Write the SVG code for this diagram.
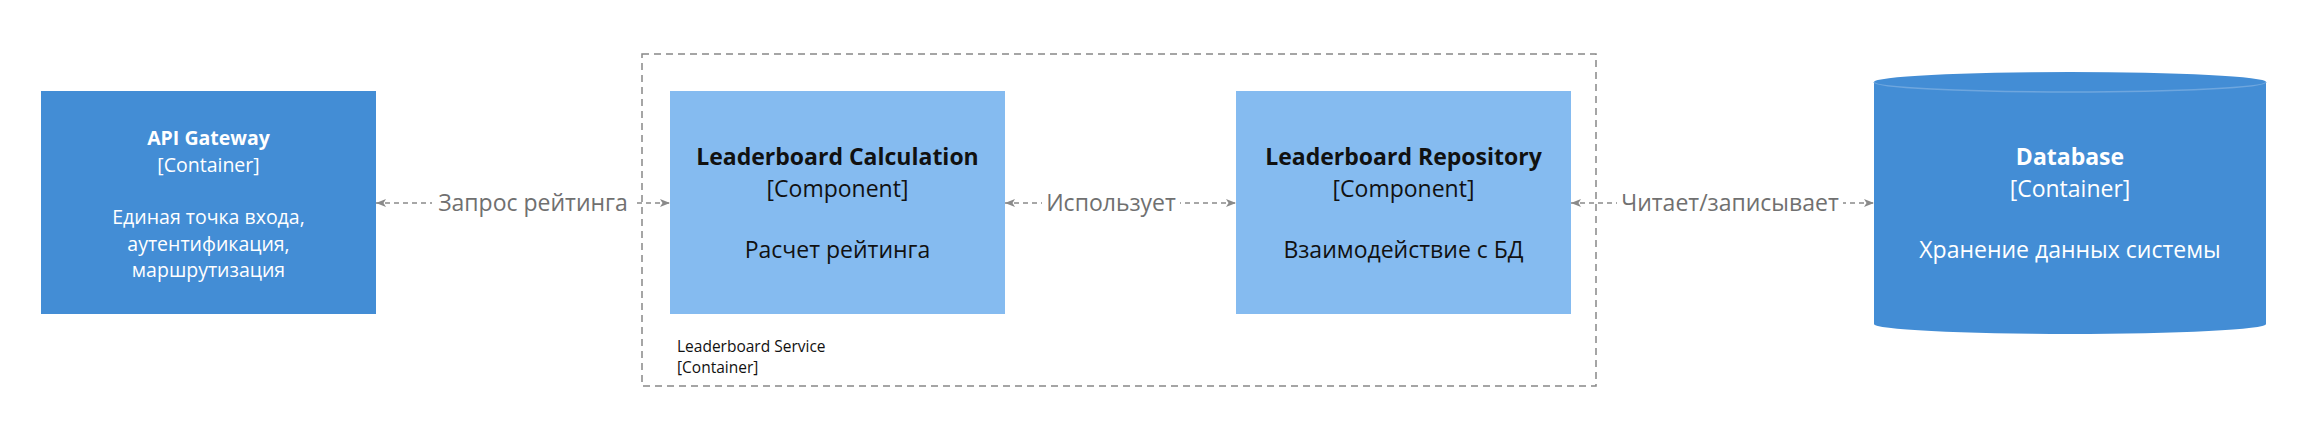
<svg xmlns="http://www.w3.org/2000/svg" width="2304" height="433" viewBox="0 0 2304 433">
<defs>
<style>
text{font-family:"Open Sans","Noto Sans","DejaVu Sans",sans-serif;text-anchor:middle}
.cont{fill:#438dd5}
.comp{fill:#85bbf0}
.w{fill:#ffffff}
.k{fill:#111111}
.t20{font-size:19.5px}
.t24{font-size:23px}
.b{font-weight:bold}
.rel{stroke:#8a8a8a;stroke-width:1.5;stroke-dasharray:5,4;fill:none;marker-start:url(#ah);marker-end:url(#ah)}
.rl{font-size:23px;fill:#707070}
.bg{fill:#ffffff}
</style>
<marker id="ah" viewBox="0 0 10 10" refX="10" refY="5" markerWidth="10" markerHeight="10" markerUnits="userSpaceOnUse" orient="auto-start-reverse">
<path d="M0,1 L10,5 L0,9 L2.5,5 Z" fill="#8a8a8a"/>
</marker>
</defs>
<rect width="2304" height="433" fill="#ffffff"/>
<g id="boundary">
<rect x="642" y="54" width="954" height="332" fill="none" stroke="#888888" stroke-width="1.5" stroke-dasharray="7,5"/>
<text x="677" y="352" style="font-size:15.5px;text-anchor:start;fill:#111111">Leaderboard Service</text>
<text x="677" y="373" style="font-size:15.5px;text-anchor:start;fill:#111111">[Container]</text>
</g>
<g id="api-gateway">
<rect class="cont" x="41" y="91" width="335" height="223"/>
<text class="w t20 b" x="208.5" y="145">API Gateway</text>
<text class="w t20" x="208.5" y="172">[Container]</text>
<text class="w t20" x="208.5" y="224">Единая точка входа,</text>
<text class="w t20" x="208.5" y="250.5">аутентификация,</text>
<text class="w t20" x="208.5" y="277">маршрутизация</text>
</g>
<g id="leaderboard-calculation">
<rect class="comp" x="670" y="91" width="335" height="223"/>
<text class="k t24 b" x="837.5" y="165">Leaderboard Calculation</text>
<text class="k t24" x="837.5" y="197">[Component]</text>
<text class="k t24" x="837.5" y="258">Расчет рейтинга</text>
</g>
<g id="leaderboard-repository">
<rect class="comp" x="1236" y="91" width="335" height="223"/>
<text class="k t24 b" x="1403.5" y="165">Leaderboard Repository</text>
<text class="k t24" x="1403.5" y="197">[Component]</text>
<text class="k t24" x="1403.5" y="258">Взаимодействие с БД</text>
</g>
<g id="database">
<path class="cont" d="M1874,82 A196,10 0 0 1 2266,82 L2266,324 A196,10 0 0 1 1874,324 Z"/>
<path d="M1874,82 A196,10 0 0 0 2266,82" fill="none" stroke="#6ea6de" stroke-width="1.5"/>
<text class="w t24 b" x="2070" y="165">Database</text>
<text class="w t24" x="2070" y="197">[Container]</text>
<text class="w t24" x="2070" y="258">Хранение данных системы</text>
</g>
<g id="connectors">
<line class="rel" x1="376" y1="203" x2="670" y2="203"/>
<rect class="bg" x="432" y="188" width="202" height="30"/>
<text class="rl" x="533" y="211">Запрос рейтинга</text>
<line class="rel" x1="1005" y1="203" x2="1236" y2="203"/>
<rect class="bg" x="1042" y="188" width="138" height="30"/>
<text class="rl" x="1111" y="211">Использует</text>
<line class="rel" x1="1571" y1="203" x2="1874" y2="203"/>
<rect class="bg" x="1617" y="188" width="226" height="30"/>
<text class="rl" x="1730" y="211">Читает/записывает</text>
</g>
</svg>
